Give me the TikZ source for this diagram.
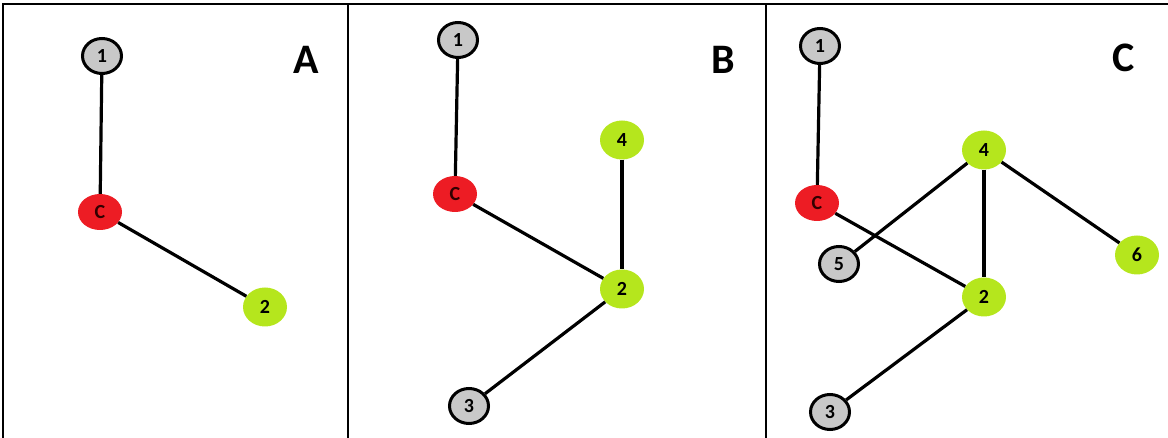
\documentclass[tikz,border=0pt]{standalone}
\usepackage{fontspec}
\setmainfont{Carlito}
\usetikzlibrary{shapes.geometric}
\definecolor{pgray}{RGB}{200,200,200}
\definecolor{pred}{RGB}{237,28,36}
\definecolor{plime}{RGB}{181,230,29}
\begin{document}
\begin{tikzpicture}[x=1pt,y=-1pt,
  vtx/.style={ellipse,inner sep=0pt,minimum width=42pt,minimum height=37pt,font=\bfseries\fontsize{20}{20}\selectfont},
  grey/.style={vtx,fill=pgray,draw=black,line width=3pt,minimum width=39pt,minimum height=35pt},
  hub/.style={vtx,fill=pred,text=black!80!red,minimum width=44pt,minimum height=36pt},
  lime/.style={vtx,fill=plime,minimum width=44pt,minimum height=39pt},
  edge/.style={line width=3.2pt,black},
  frame/.style={line width=2.4pt,black},
  tag/.style={font=\bfseries\fontsize{42}{42}\selectfont}]
\useasboundingbox (0,0) rectangle (1168,438);
% panel frame
\draw[frame] (3,438) -- (3,4) -- (1168,4);
\draw[frame] (348,4) -- (348,438);
\draw[frame] (766,4) -- (766,438);
% panel A
\node[grey] (a1) at (102,56) {1};
\node[hub]  (ac) at (100,212) {C};
\node[lime] (a2) at (265,307) {2};
\draw[edge] (a1) -- (ac);
\draw[edge] (ac) -- (a2);
\node[tag] (la) at (306,60) {A};
% panel B
\node[grey] (b1) at (458,40) {1};
\node[hub]  (bc) at (455,194) {C};
\node[lime] (b4) at (622,140) {4};
\node[lime] (b2) at (622,289) {2};
\node[grey] (b3) at (469,406) {3};
\draw[edge] (b1) -- (bc);
\draw[edge] (bc) -- (b2);
\draw[edge] (b4) -- (b2);
\draw[edge] (b2) -- (b3);
\node[tag] (lb) at (723,60) {B};
% panel C
\node[grey] (c1) at (820,46) {1};
\node[hub]  (cc) at (817,203) {C};
\node[lime] (c4) at (984,150) {4};
\node[grey] (c5) at (839,264) {5};
\node[lime] (c6) at (1137,255) {6};
\node[lime] (c2) at (984,297) {2};
\node[grey] (c3) at (830,412) {3};
\draw[edge] (c1) -- (cc);
\draw[edge] (cc) -- (c2);
\draw[edge] (c4) -- (c5);
\draw[edge] (c4) -- (c2);
\draw[edge] (c4) -- (c6);
\draw[edge] (c2) -- (c3);
\node[tag] (lc) at (1124,58) {C};
\end{tikzpicture}
\end{document}
